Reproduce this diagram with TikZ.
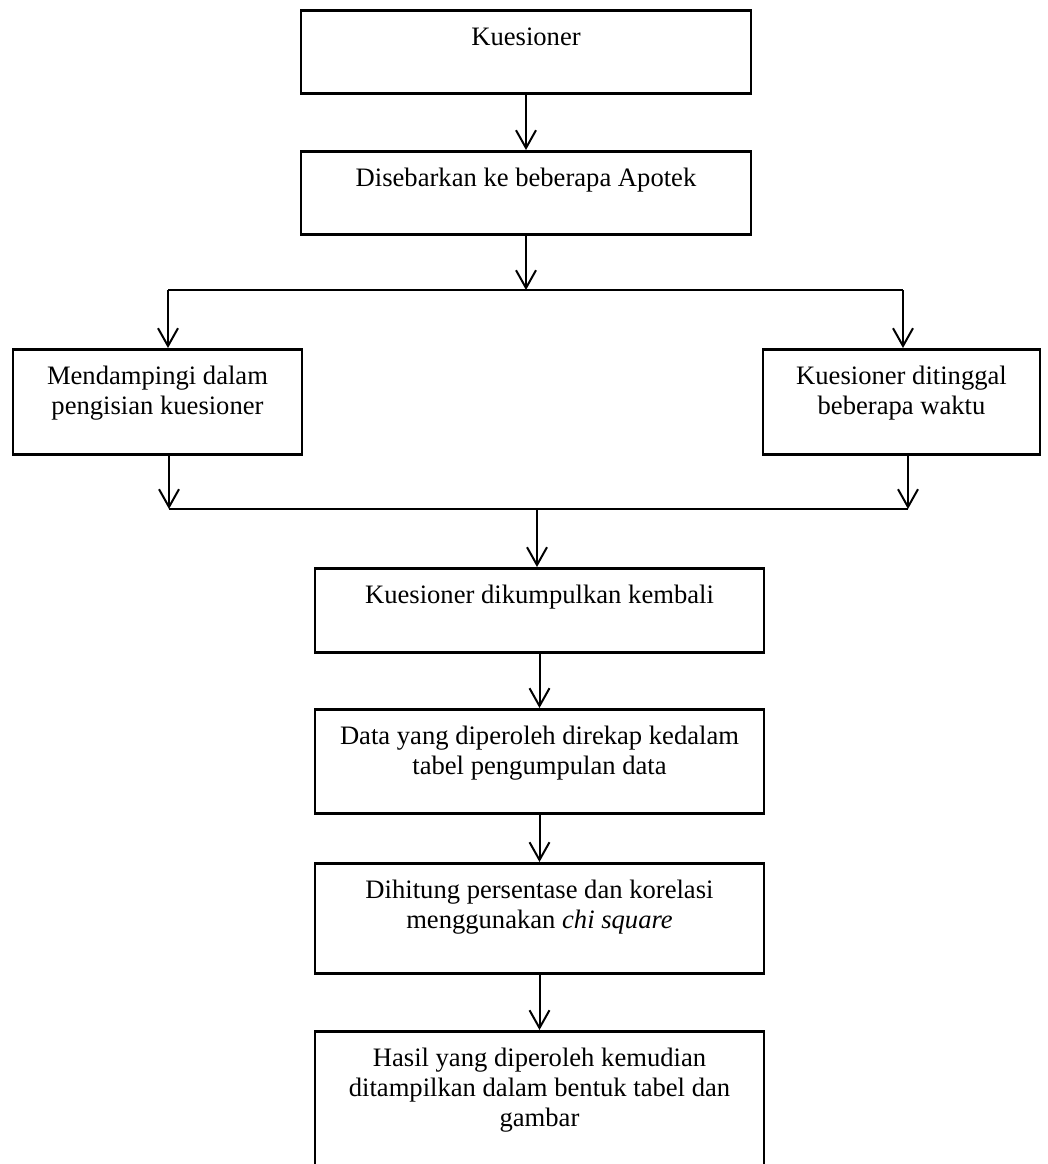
\documentclass[tikz,border=0pt]{standalone}
\usepackage{fontspec}
\setmainfont{Liberation Serif}
\usetikzlibrary{arrows.meta, positioning}

\begin{document}
\begin{tikzpicture}[
    x=0.451pt, y=-0.451pt,
    every node/.style={font=\fontsize{12}{13.4}\selectfont},
    kotak/.style={draw, line width=1.2pt, anchor=north, inner sep=0pt},
    isi/.style={anchor=north, align=center, inner sep=0pt, yshift=-8.1pt},
    panah/.style={-{Straight Barb[length=8pt, width=9pt]}, line width=0.9pt},
    garis/.style={line width=1.1pt}
  ]
  \useasboundingbox (0,0) rectangle (1047,1164);

  % ── Top: questionnaire and distribution ─────────────────────────────────
  \node[kotak, minimum width=203pt, minimum height=37.4pt] (b1) at (526, 9) {};
  \node[isi] (t1) at (b1.north) {Kuesioner};

  \node[kotak, minimum width=203pt, minimum height=37.4pt] (b2) at (526, 150) {};
  \node[isi] (t2) at (b2.north) {Disebarkan ke beberapa Apotek};

  \draw[panah] (b1) -- (b2);

  % ── Split into two ways ─────────────────────────────────────────────────
  \coordinate (pisah) at (526, 290);
  \coordinate (kiri1) at (168, 290);
  \coordinate (kanan1) at (903, 290);

  \node[kotak, minimum width=130.3pt, minimum height=47.4pt] (b3) at (157.5, 348) {};
  \node[isi] (t3) at (b3.north) {Mendampingi dalam\\ pengisian kuesioner};

  \node[kotak, minimum width=124.9pt, minimum height=47.4pt] (b4) at (901.5, 348) {};
  \node[isi] (t4) at (b4.north) {Kuesioner ditinggal\\ beberapa waktu};

  \draw[panah] (b2) -- (pisah);
  \draw[garis] (kiri1) -- (kanan1);
  \draw[panah] (kiri1) -- (kiri1 |- b3.north);
  \draw[panah] (kanan1) -- (kanan1 |- b4.north);

  % ── Join again ──────────────────────────────────────────────────────────
  \coordinate (kiri2) at (169, 509);
  \coordinate (kanan2) at (908, 509);
  \coordinate (gabung) at (537, 509);

  \draw[panah] (kiri2 |- b3.south) -- (kiri2);
  \draw[panah] (kanan2 |- b4.south) -- (kanan2);
  \draw[garis] (kiri2) -- (kanan2);

  % ── Processing chain ────────────────────────────────────────────────────
  \node[kotak, minimum width=202.5pt, minimum height=37.9pt] (b5) at (539.5, 567) {};
  \node[isi] (t5) at (b5.north) {Kuesioner dikumpulkan kembali};

  \node[kotak, minimum width=202.5pt, minimum height=46.9pt] (b6) at (539.5, 708) {};
  \node[isi] (t6) at (b6.north) {Data yang diperoleh direkap kedalam\\ tabel pengumpulan data};

  \node[kotak, minimum width=202.5pt, minimum height=49.6pt] (b7) at (539.5, 862) {};
  \node[isi] (t7) at (b7.north) {Dihitung persentase dan korelasi\\ menggunakan \textit{chi square}};

  % last box runs past the bottom edge
  \node[kotak, minimum width=202.5pt, minimum height=90pt] (b8) at (539.5, 1030) {};
  \node[isi] (t8) at (b8.north) {Hasil yang diperoleh kemudian\\ ditampilkan dalam bentuk tabel dan\\ gambar};

  \draw[panah] (gabung) -- (gabung |- b5.north);
  \draw[panah] (b5) -- (b6);
  \draw[panah] (b6) -- (b7);
  \draw[panah] (b7) -- (b8);

\end{tikzpicture}
\end{document}
